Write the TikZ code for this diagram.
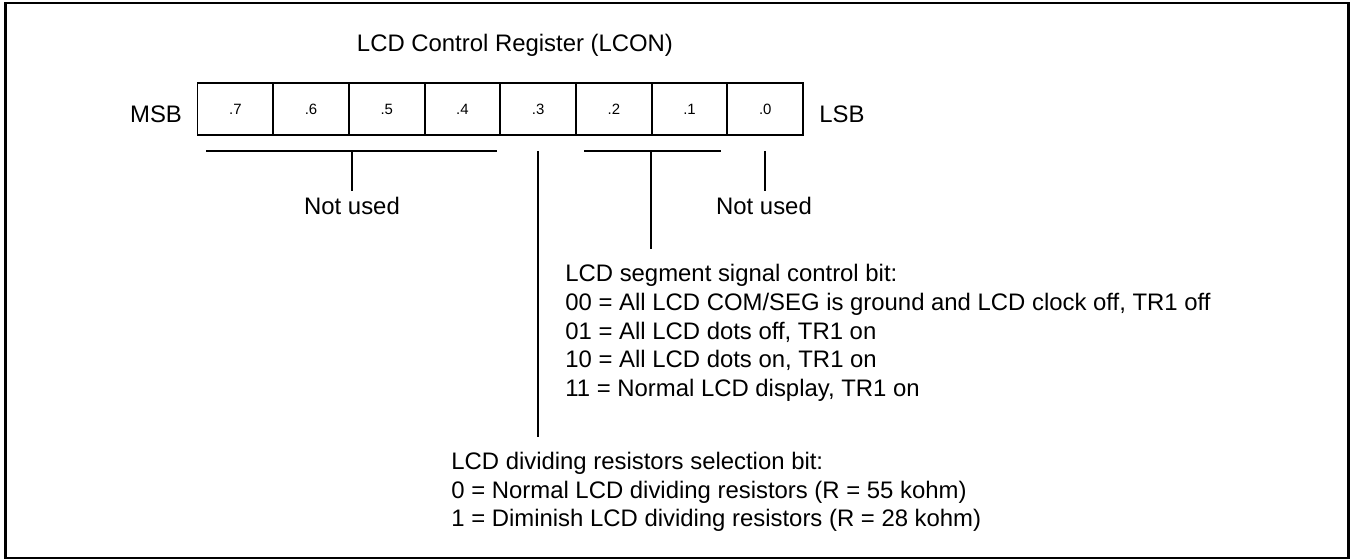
\documentclass[tikz,border=0pt]{standalone}
\usepackage{fontspec}
\setmainfont{Liberation Sans}
\usetikzlibrary{positioning}

\begin{document}
\begin{tikzpicture}[
    x=0.02cm, y=-0.02cm,
    font=\fontsize{13.6}{16.3}\selectfont,
    cell/.style={draw, line width=1.1pt, minimum width=1.514cm, minimum height=1.04cm,
        inner sep=0pt, font=\fontsize{8.5}{10}\selectfont},
    bracket/.style={line width=1.1pt},
    note/.style={anchor=base west, align=left, inner sep=0pt}
]
\useasboundingbox (0,0) rectangle (1350,560);
\draw[line width=1.7pt] (5.5,3) rectangle (1348,558);

\node[anchor=base] (title) at (515,52) {LCD Control Register (LCON)};

% register cells, bit 7 on the left
\foreach \i in {0,...,7} {
    \pgfmathtruncatemacro{\bit}{7-\i}
    \node[cell] (b\bit) at ({197.5+75.7*(\i+0.5)},109) {.\bit};
}
\node[anchor=base] (msb) at (156,123) {MSB};
\node[anchor=base] (lsb) at (842,123) {LSB};

% field labels (base = last line)
\node[anchor=base] (unused1) at (352,215) {Not used};
\node[anchor=base] (unused2) at (764,215) {Not used};
\node[note] (seg) at (565,396.5) {LCD segment signal control bit:\\
    00 = All LCD COM/SEG is ground and LCD clock off, TR1 off\\
    01 = All LCD dots off, TR1 on\\
    10 = All LCD dots on, TR1 on\\
    11 = Normal LCD display, TR1 on};
\node[note] (div) at (451,527) {LCD dividing resistors selection bit:\\
    0 = Normal LCD dividing resistors (R = 55 kohm)\\
    1 = Diminish LCD dividing resistors (R = 28 kohm)};

% brackets
\draw[bracket] (206,151) -- (497,151);
\draw[bracket] (352,151) -- (unused1.north);
\draw[bracket] (b3.south |- 0,151) -- (b3.south |- 0,437);
\draw[bracket] (584,151) -- (721,151);
\draw[bracket] (b1.south west |- 0,151) -- (b1.south west |- 0,249);
\draw[bracket] (b0.south |- 0,151) -- (b0.south |- unused2.north);
\end{tikzpicture}
\end{document}
